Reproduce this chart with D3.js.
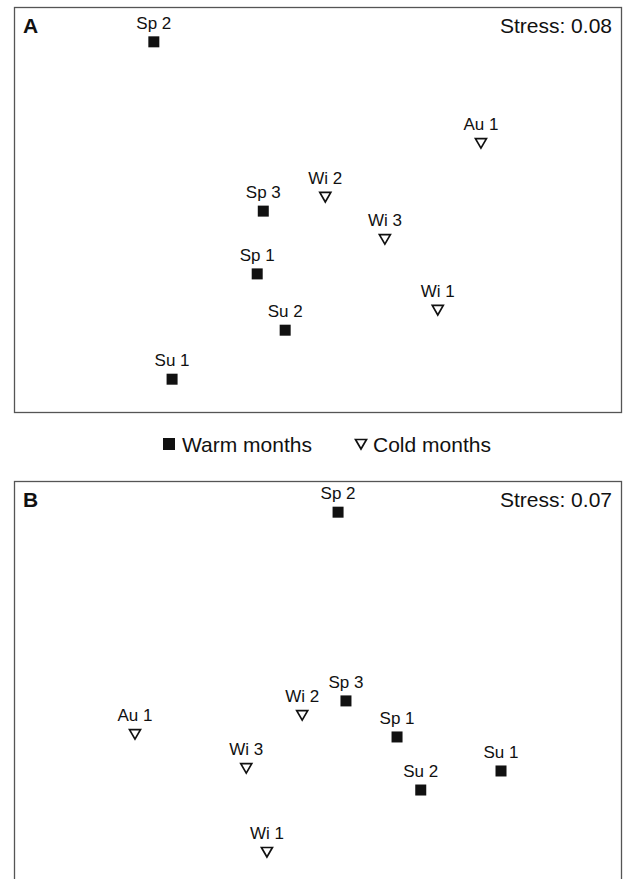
<!DOCTYPE html>
<head>
  <meta charset="utf-8" />
  <script src="https://d3js.org/d3.v7.min.js"></script>
  <style>
    body { margin: 0; background: #fff; }
    text { font-family: "Liberation Sans", Arial, sans-serif; fill: #111; }
  </style>
</head>
<body>
  <script>
    var width = 625, height = 879;

    // ordination scores (arbitrary units, 0-100 on each axis)
    var labelsA = ["Sp 2", "Au 1", "Sp 3", "Wi 2", "Wi 3", "Sp 1", "Wi 1", "Su 2", "Su 1"];
    var xA = [23.0, 76.8, 41.0, 51.2, 61.0, 40.0, 69.7, 44.6, 26.0];
    var yA = [91.4, 66.4, 49.6, 53.1, 42.7, 34.1, 25.2, 20.2, 8.1];
    var labelsB = ["Sp 2", "Sp 3", "Wi 2", "Au 1", "Sp 1", "Wi 3", "Su 1", "Su 2", "Wi 1"];
    var xB = [53.3, 54.6, 47.4, 19.9, 63.0, 38.2, 80.1, 66.9, 41.6];
    var yB = [92.3, 45.7, 42.2, 37.5, 36.8, 29.1, 28.4, 23.7, 8.4];
    var stress = ["0.08", "0.07"];
    var panelNames = ["A", "B"];

    var svg = d3.select("body").append("svg")
      .attr("width", width).attr("height", height);

    function season(l) {
      return (l.indexOf("Wi") == 0 || l.indexOf("Au") == 0) ? "cold" : "warm";
    }

    var tri = "M-5.5,-4.5 L5.5,-4.5 L0,5 Z";

    function drawPanel(top, name, labels, xs, ys, st) {
      var left = 14, right = 622, bottom = top + 405;
      var x = d3.scaleLinear().domain([0, 100]).range([left, right]);
      var y = d3.scaleLinear().domain([0, 100]).range([bottom, top]);
      var g = svg.append("g");

      g.append("rect")
        .attr("x", left + 0.5).attr("y", top + 0.5)
        .attr("width", right - left - 1).attr("height", bottom - top)
        .attr("fill", "none").attr("stroke", "#555").attr("stroke-width", 1.3);

      g.append("text").attr("x", 23).attr("y", top + 26)
        .attr("font-size", 21).attr("font-weight", "bold").text(name);
      g.append("text").attr("x", 612).attr("y", top + 26)
        .attr("text-anchor", "end").attr("font-size", 21).text("Stress: " + st);

      var data = labels.map(function (l, i) { return { label: l, x: xs[i], y: ys[i] }; });

      var pts = g.selectAll(".pt").data(data).join("g")
        .attr("transform", function (d) { return "translate(" + x(d.x) + "," + y(d.y) + ")"; });

      pts.filter(function (d) { return season(d.label) == "warm"; })
        .append("rect").attr("x", -5.5).attr("y", -5.5).attr("width", 11).attr("height", 11)
        .attr("fill", "#111");
      pts.filter(function (d) { return season(d.label) == "cold"; })
        .append("path").attr("d", tri)
        .attr("fill", "#fff").attr("stroke", "#111").attr("stroke-width", 1.7);

      pts.append("text").attr("x", 0).attr("y", -13)
        .attr("text-anchor", "middle").attr("font-size", 17)
        .text(function (d) { return d.label; });
    }

    drawPanel(7, panelNames[0], labelsA, xA, yA, stress[0]);
    drawPanel(481, panelNames[1], labelsB, xB, yB, stress[1]);

    // legend
    var lg = svg.append("g").attr("transform", "translate(0,444)");
    lg.append("rect").attr("x", 163).attr("y", -6).attr("width", 12).attr("height", 12).attr("fill", "#111");
    lg.append("text").attr("x", 182).attr("y", 8).attr("font-size", 21).text("Warm months");
    lg.append("path").attr("d", tri).attr("transform", "translate(361,0)")
      .attr("fill", "#fff").attr("stroke", "#111").attr("stroke-width", 1.7);
    lg.append("text").attr("x", 373).attr("y", 8).attr("font-size", 21).text("Cold months");
  </script>
</body>
